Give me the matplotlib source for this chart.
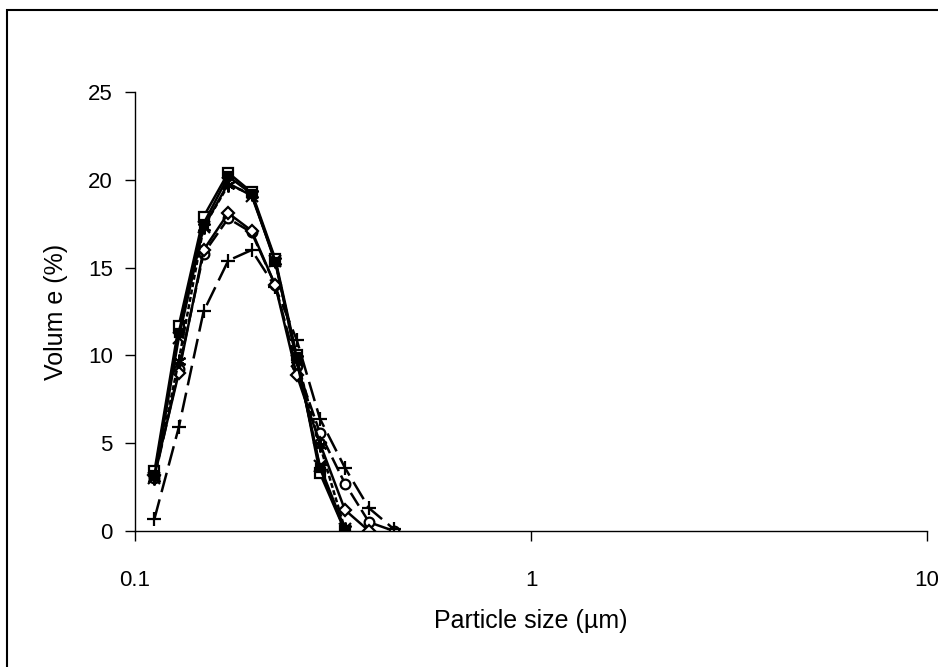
import numpy as np
import matplotlib
matplotlib.use("Agg")
import matplotlib.pyplot as plt
from matplotlib.patches import Rectangle

plt.rcParams['font.family'] = ['Liberation Sans', 'DejaVu Sans']

# particle size classes (um)
size_um = [0.112, 0.129, 0.149, 0.172, 0.197, 0.226, 0.256, 0.293, 0.339, 0.390, 0.451]

# volume (%) for each sample
vol_square = [3.4, 11.7, 17.9, 20.4, 19.3, 15.5, 10.0, 3.3, 0.0]
vol_fsquare = [3.2, 11.3, 17.5, 20.2, 19.2, 15.3, 9.9, 3.6, 0.0]
vol_x = [3.0, 11.0, 17.3, 19.8, 19.1, 15.4, 9.7, 3.7, 0.1]
vol_star = [3.0, 9.7, 17.3, 19.7, 19.2, 15.4, 9.8, 4.9, 0.1]
vol_diamond = [3.2, 9.0, 16.0, 18.1, 17.1, 14.0, 8.9, 5.0, 1.2, 0.0]
vol_circle = [3.0, 9.2, 15.8, 17.8, 17.0, 14.0, 9.4, 5.6, 2.7, 0.5, 0.0]
vol_plus = [0.7, 5.9, 12.5, 15.4, 16.0, 13.9, 10.9, 6.4, 3.6, 1.3, 0.1]

series = [
    (vol_circle, 'o', 'white', (0, (6, 2)), 7),
    (vol_plus, '+', 'black', (0, (8, 3)), 10),
    (vol_diamond, 'D', 'white', '-', 6),
    (vol_star, (6, 2, 0), 'black', (0, (2, 1)), 10),
    (vol_square, 's', 'white', '-', 7),
    (vol_fsquare, 's', 'black', '-', 6),
    (vol_x, 'x', 'black', '-', 9),
]

fig = plt.figure(figsize=(9.38, 6.67), dpi=100)
ax = fig.add_axes([0.1439, 0.2039, 0.8444, 0.6582])

for vals, mk, fc, ls, ms in series:
    n = len(vals)
    ax.plot(size_um[:n], vals, color='black', linestyle=ls, linewidth=1.8,
            marker=mk, markersize=ms, markerfacecolor=fc, markeredgecolor='black',
            markeredgewidth=1.6)

ax.set_xscale('log')
ax.set_xlim(0.1, 10)
ax.set_ylim(0, 25)
ax.set_yticks([0, 5, 10, 15, 20, 25])
ax.set_xticks([0.1, 1, 10])
ax.set_xticklabels(['0.1', '1', '10'])
ax.xaxis.set_minor_locator(matplotlib.ticker.NullLocator())

for s in ['top', 'right']:
    ax.spines[s].set_visible(False)
for s in ['left', 'bottom']:
    ax.spines[s].set_linewidth(1.0)

ax.tick_params(axis='y', direction='out', length=7, width=1, pad=9, labelsize=16)
ax.tick_params(axis='x', direction='out', length=7, width=1, pad=21, labelsize=16)

ax.set_xlabel('Particle size (µm)', fontsize=18, labelpad=13)
ax.set_ylabel('Volum e (%)', fontsize=18, labelpad=14)

# outer chart border
fig.add_artist(Rectangle((7 / 938, -0.02), 1.0, 1 - 10 / 667 + 0.02,
                         transform=fig.transFigure, fill=False,
                         edgecolor='black', linewidth=1.5))

fig.savefig('out.png', dpi=100)
